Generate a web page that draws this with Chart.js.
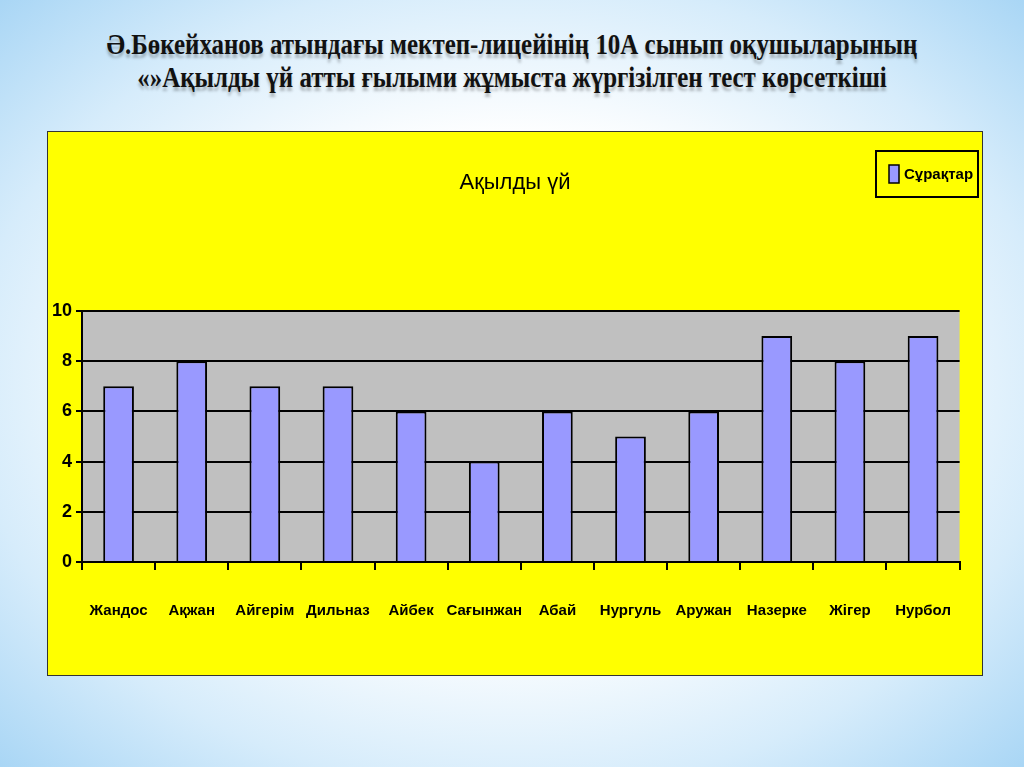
<!DOCTYPE html>
<html><head><meta charset="utf-8">
<script src="https://cdn.jsdelivr.net/npm/chart.js@4"></script>
<style>
body{margin:0;width:1024px;height:767px;overflow:hidden;background:radial-gradient(ellipse at center,#ffffff 45%,#d6ecfb 75%,#a9d6f5 100%);font-family:"Liberation Serif",serif;}
#t{position:absolute;top:28px;left:0;width:1024px;text-align:center;font-weight:bold;font-size:29px;line-height:33px;color:#111;text-shadow:0 4px 3px rgba(0,0,0,0.25);transform:scaleX(0.86);white-space:nowrap;}
#box{position:absolute;left:47px;top:131px;width:934px;height:543px;background:#ffff00;border:1px solid #333;}
</style></head><body>
<div id="t">Ә.Бөкейханов атындағы мектеп-лицейінің 10А сынып оқушыларының<br>«»Ақылды үй атты ғылыми жұмыста жүргізілген тест көрсеткіші</div>
<div id="box"></div>
<div style="position:absolute;left:47px;top:131px;width:936px;height:545px"><canvas id="c"></canvas></div>
<script>
const categories=["Жандос","Ақжан","Айгерім","Дильназ","Айбек","Сағынжан","Абай","Нургуль","Аружан","Назерке","Жігер","Нурбол"];
const values=[7,8,7,7,6,4,6,5,6,9,8,9];
const seriesName="Сұрақтар";
const chartTitle="Ақылды үй";
const F='"Liberation Sans",sans-serif';
const deco={id:'deco',
 beforeDraw(ch){const a=ch.chartArea,c=ch.ctx;c.save();c.fillStyle='#c0c0c0';c.fillRect(a.left,a.top,a.right-a.left,a.bottom-a.top);c.restore();},
 afterDraw(ch){const c=ch.ctx;c.save();c.fillStyle='#000';c.font='22px '+F;c.textAlign='center';c.textBaseline='middle';c.fillText(chartTitle,468,52);
  c.fillStyle='#ffff00';c.strokeStyle='#000';c.lineWidth=2;c.strokeRect(829,20,102,46);
  c.fillStyle='#9999ff';c.fillRect(842,34,10,18);c.lineWidth=1.5;c.strokeRect(842,34,10,18);
  c.fillStyle='#000';c.font='bold 15px '+F;c.textAlign='left';c.fillText(seriesName,857,44);c.restore();}
};
new Chart(document.getElementById('c'),{type:'bar',
 data:{labels:categories,datasets:[{label:seriesName,data:values,backgroundColor:'#9999ff',borderColor:'#000',borderWidth:2,barPercentage:0.42,categoryPercentage:1}]},
 plugins:[deco],
 options:{responsive:true,maintainAspectRatio:false,animation:false,
  layout:{padding:{top:180,left:0,right:2,bottom:0}},
  plugins:{legend:{display:false},title:{display:false},tooltip:{enabled:false}},
  scales:{
   x:{afterFit(s){s.height=114;},grid:{display:true,drawOnChartArea:false,offset:true,color:'#000',lineWidth:2,tickLength:8},border:{color:'#000',width:2},
      ticks:{color:'#000',padding:32,maxRotation:0,minRotation:0,autoSkip:false,font:{family:F,size:15,weight:'bold'}}},
   y:{min:0,max:10,afterFit(s){s.width=35;},ticks:{stepSize:2,color:'#000',padding:4,font:{family:F,size:18,weight:'bold'}},
      grid:{color:'#000',lineWidth:2,tickLength:6},border:{color:'#000',width:2}}
  }}});
</script></body></html>
